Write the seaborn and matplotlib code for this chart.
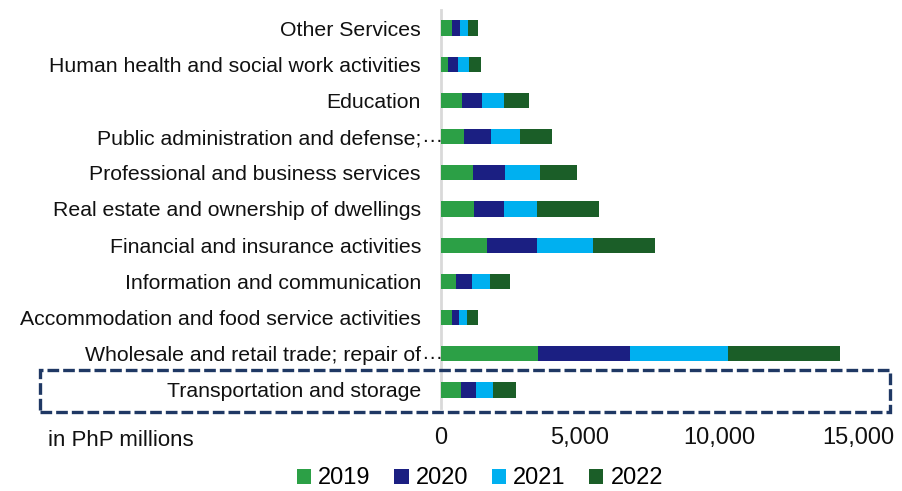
import matplotlib
matplotlib.use("Agg")
import matplotlib.pyplot as plt
from matplotlib.patches import Patch, Rectangle
import numpy as np
import pandas as pd
import seaborn as sns

# Industries (top to bottom) and yearly values in PhP millions
industries = [
    "Other Services",
    "Human health and social work activities",
    "Education",
    "Public administration and defense;",
    "Professional and business services",
    "Real estate and ownership of dwellings",
    "Financial and insurance activities",
    "Information and communication",
    "Accommodation and food service activities",
    "Wholesale and retail trade; repair of",
    "Transportation and storage",
]
truncated = ["Public administration and defense;", "Wholesale and retail trade; repair of"]

years = ["2019", "2020", "2021", "2022"]
v2019 = [400, 260, 740, 840, 1160, 1190, 1640, 530, 380, 3490, 720]
v2020 = [280, 340, 720, 960, 1160, 1080, 1830, 600, 260, 3320, 550]
v2021 = [280, 420, 800, 1040, 1230, 1170, 1990, 630, 280, 3520, 610]
v2022 = [380, 410, 900, 1140, 1350, 2250, 2240, 720, 420, 4030, 820]
colors = ["#2CA046", "#1B1F82", "#00B0F0", "#1B5E28"]

xticks = [0, 5000, 10000, 15000]

plt.rcParams["font.family"] = ["Liberation Sans", "DejaVu Sans"]

df = pd.DataFrame({"industry": industries, "2019": v2019, "2020": v2020,
                   "2021": v2021, "2022": v2022})
cum = df[years].cumsum(axis=1)

fig = plt.figure(figsize=(9.03, 4.91), dpi=100)
ax = fig.add_axes([441 / 903, 1 - 408 / 491, 417 / 903, 398 / 491])

# stacked bars: draw cumulative totals from the outermost segment inwards
for year, color in reversed(list(zip(years, colors))):
    sns.barplot(x=cum[year], y=df["industry"], orient="h", color=color,
                saturation=1, width=0.42, linewidth=0, ax=ax, zorder=2)

ax.set_xlim(0, 15000)
ax.set_xticks(xticks)
ax.set_xticklabels([f"{t:,}" for t in xticks], fontsize=17, color="#111111")
ax.tick_params(axis="x", length=0, pad=14)
ax.tick_params(axis="y", length=0, pad=14.4, labelsize=15.3, labelcolor="#111111")
ax.set_xlabel("")
ax.set_ylabel("")
for side in ["top", "right", "bottom"]:
    ax.spines[side].set_visible(False)
ax.spines["left"].set_color("#D9D9D9")
ax.spines["left"].set_linewidth(2)
ax.spines["left"].set_zorder(1)
ax.grid(False)

# ellipsis on the shortened industry names, overflowing towards the axis
for lbl in ax.get_yticklabels():
    if lbl.get_text() in truncated:
        idx = industries.index(lbl.get_text())
        ax.annotate("…", xy=(0, idx), xycoords=("axes fraction", "data"),
                    xytext=(-20, 0), textcoords="offset pixels",
                    ha="left", va="center", fontsize=15.3, color="#111111",
                    annotation_clip=False)

fig.text(48 / 903, 1 - 441 / 491, "in PhP millions", fontsize=16,
         color="#111111", ha="left", va="center")

# highlight box around the transportation row
fig.patches.append(Rectangle((40 / 903, 1 - 412 / 491), 850 / 903, 42 / 491,
                             transform=fig.transFigure, fill=False,
                             edgecolor="#1F3864", linewidth=2.4,
                             linestyle=(0, (3.5, 1.2)), zorder=5))

handles = [Patch(facecolor=c, edgecolor="none") for c in colors]
fig.legend(handles, years, loc="center", bbox_to_anchor=(480 / 903, 1 - 478.5 / 491),
           ncol=4, frameon=False, fontsize=17, handlelength=0.6,
           handleheight=0.6, handletextpad=0.3, columnspacing=1.0,
           borderaxespad=0, borderpad=0)

fig.savefig("out.png", dpi=100)
